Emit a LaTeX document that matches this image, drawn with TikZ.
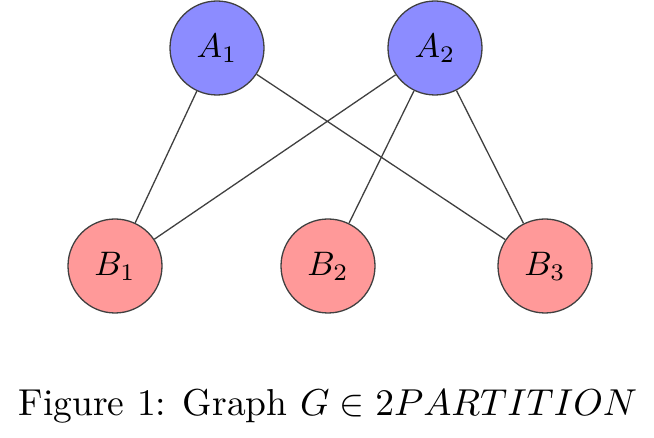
\documentclass[tikz,border=0pt]{standalone}
\begin{document}
\begin{tikzpicture}[x=1pt,y=-1pt,
  v/.style={circle,draw=black!75,line width=1.3pt,minimum size=94pt,inner sep=0pt},
  a/.style={v,fill=blue!45!white},
  b/.style={v,fill=red!40!white},
  e/.style={draw=black!75,line width=1.3pt},
  lbl/.style={scale=3.4}]
\useasboundingbox (0,0) rectangle (654,438);
\node[a] (A1) at (217,48) {};
\node[a] (A2) at (435,48) {};
\node[b] (B1) at (115,266) {};
\node[b] (B2) at (328,266) {};
\node[b] (B3) at (545,266) {};
\node[lbl] (tA1) at (A1) {$A_1$};
\node[lbl] (tA2) at (A2) {$A_2$};
\node[lbl] (tB1) at (B1) {$B_1$};
\node[lbl] (tB2) at (B2) {$B_2$};
\node[lbl] (tB3) at (B3) {$B_3$};
\draw[e] (A1)--(B1) (A1)--(B3) (A2)--(B1) (A2)--(B2) (A2)--(B3);
\node[scale=3.75] (cap) at (328,406) {Figure 1: Graph $G\in 2PARTITION$};
\end{tikzpicture}
\end{document}
